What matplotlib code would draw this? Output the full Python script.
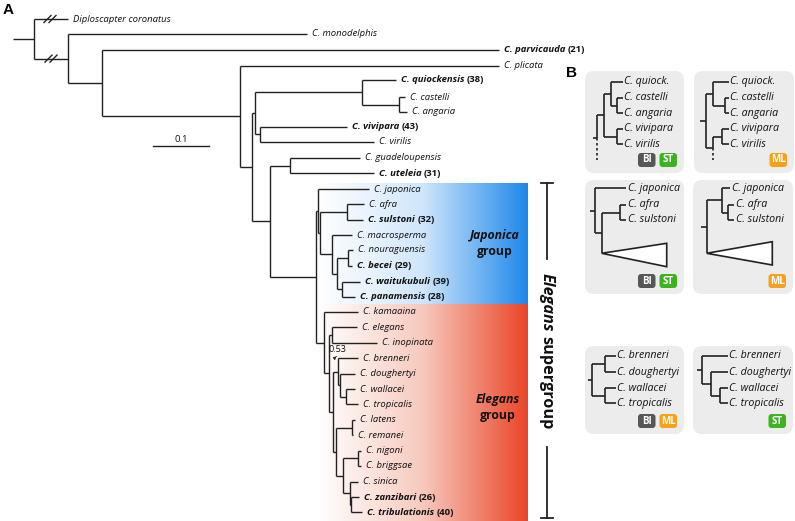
import matplotlib.pyplot as plt
import numpy as np
from matplotlib.colors import LinearSegmentedColormap
from matplotlib.patches import FancyBboxPatch, Polygon

plt.rcParams['font.family'] = ['Open Sans', 'DejaVu Sans']

# ---------------- data (positions, in pixels) ----------------
# main tree leaves: name, row y, tip x, bold suffix
main_leaves = ['Diploscapter coronatus', 'C. monodelphis', 'C. parvicauda', 'C. plicata',
               'C. quiockensis', 'C. castelli', 'C. angaria', 'C. vivipara', 'C. virilis',
               'C. guadeloupensis', 'C. uteleia', 'C. japonica', 'C. afra', 'C. sulstoni',
               'C. macrosperma', 'C. nouraguensis', 'C. becei', 'C. waitukubuli',
               'C. panamensis', 'C. kamaaina', 'C. elegans', 'C. inopinata', 'C. brenneri',
               'C. doughertyi', 'C. wallacei', 'C. tropicalis', 'C. latens', 'C. remanei',
               'C. nigoni', 'C. briggsae', 'C. sinica', 'C. zanzibari', 'C. tribulationis']
main_leaf_y = [19, 34, 50, 65.7, 80, 97, 112, 126.7, 142, 158, 173, 189.3, 204.3, 220,
               235, 250, 266, 281.7, 296.7, 311.7, 327.3, 342.7, 358.3, 374, 389, 404.3,
               420, 435, 450.7, 466, 481.7, 497.3, 512.3]
main_leaf_tip = [68, 307, 499, 499, 396, 405, 407, 347, 374, 360, 374, 369, 364, 363,
                 352, 353, 352, 360, 355, 358, 357, 377, 358, 355, 355, 358, 355, 353,
                 361, 361, 358, 359, 362]
new_species = {'C. parvicauda': '(21)', 'C. quiockensis': '(38)', 'C. vivipara': '(43)',
               'C. uteleia': '(31)', 'C. sulstoni': '(32)', 'C. becei': '(29)',
               'C. waitukubuli': '(39)', 'C. panamensis': '(28)', 'C. zanzibari': '(26)',
               'C. tribulationis': '(40)'}

# main tree internal nodes: name, x, children
main_nodes = ['root', 'n_mono', 'n_parv', 'n_plic', 'n_b', 'n_a', 'n_q', 'n_ca', 'n_vv',
              'n_c', 'n_gu', 'n_sg', 'n_j', 'n_x', 'n_as', 'n_m', 'n_n', 'n_nb', 'n_wp',
              'n_e', 'n_ei', 'n_el', 'n_p', 'n_q2', 'n_r', 'n_wt', 'n_s', 'n_lr', 'n_t',
              'n_nbr', 'n_u', 'n_v']
main_node_x = [34, 68, 102, 240, 252, 255, 362, 399, 260, 270, 289.5, 316, 317.7, 320,
               347, 331.7, 337.3, 348.3, 341.7, 324, 328.7, 331.7, 332.7, 337.5, 339.5,
               346, 336, 351.7, 342.7, 358.3, 349.5, 351]
main_node_children = [
    ['Diploscapter coronatus', 'n_mono'], ['C. monodelphis', 'n_parv'],
    ['C. parvicauda', 'n_plic'], ['C. plicata', 'n_b'], ['n_a', 'n_c'], ['n_q', 'n_vv'],
    ['C. quiockensis', 'n_ca'], ['C. castelli', 'C. angaria'], ['C. vivipara', 'C. virilis'],
    ['n_gu', 'n_sg'], ['C. guadeloupensis', 'C. uteleia'], ['n_j', 'n_e'],
    ['C. japonica', 'n_x'], ['n_as', 'n_m'], ['C. afra', 'C. sulstoni'],
    ['C. macrosperma', 'n_n'], ['n_nb', 'n_wp'], ['C. nouraguensis', 'C. becei'],
    ['C. waitukubuli', 'C. panamensis'], ['C. kamaaina', 'n_ei'], ['n_el', 'n_p'],
    ['C. elegans', 'C. inopinata'], ['n_q2', 'n_s'], ['C. brenneri', 'n_r'],
    ['C. doughertyi', 'n_wt'], ['C. wallacei', 'C. tropicalis'], ['n_lr', 'n_t'],
    ['C. latens', 'C. remanei'], ['n_nbr', 'n_u'], ['C. nigoni', 'C. briggsae'],
    ['C. sinica', 'n_v'], ['C. zanzibari', 'C. tribulationis']]
main_stem_x = 13
break_marks = [(50, 'Diploscapter coronatus'), (51, 'n_mono')]

# panel B subtrees
b1_leaves = ['C. quiock.', 'C. castelli', 'C. angaria', 'C. vivipara', 'C. virilis', 'rest']
b1_y = [81.7, 97.7, 113.3, 129, 144.3, 160]
b1_tip = [623, 623, 623, 623, 623, 597.3]
b1_nodes = ['r', 'a', 'q', 'ca', 'vv']
b1_x = [597.3, 604, 610.7, 617.3, 617.3]
b1_children = [['a', 'rest'], ['q', 'vv'], ['C. quiock.', 'ca'],
               ['C. castelli', 'C. angaria'], ['C. vivipara', 'C. virilis']]

b2_leaves = ['C. quiock.', 'C. castelli', 'C. angaria', 'C. vivipara', 'C. virilis', 'rest']
b2_y = [81.7, 97.7, 113.3, 129, 144.3, 160]
b2_tip = [729, 729, 729, 729, 729, 713.3]
b2_nodes = ['r', 'q', 'ca', 'b', 'vv']
b2_x = [705.7, 712.7, 725, 713.3, 721.7]
b2_children = [['q', 'b'], ['C. quiock.', 'ca'], ['C. castelli', 'C. angaria'],
               ['vv', 'rest'], ['C. vivipara', 'C. virilis']]

b3_leaves = ['C. japonica', 'C. afra', 'C. sulstoni', 'tri']
b3_y = [188.3, 205, 220, 253.3]
b3_tip = [626, 626, 626, 601.7]
b3_nodes = ['r', 'a', 'as']
b3_x = [595, 601.7, 620]
b3_children = [['C. japonica', 'a'], ['as', 'tri'], ['C. afra', 'C. sulstoni']]

b4_leaves = ['C. japonica', 'C. afra', 'C. sulstoni', 'tri']
b4_y = [188.3, 205, 220, 253.3]
b4_tip = [730, 734, 734, 706.7]
b4_nodes = ['r', 'j', 'as']
b4_x = [706.7, 721.7, 728.3]
b4_children = [['j', 'tri'], ['C. japonica', 'as'], ['C. afra', 'C. sulstoni']]

b5_leaves = ['C. brenneri', 'C. doughertyi', 'C. wallacei', 'C. tropicalis']
b5_y = [356, 372.3, 388.3, 403.3]
b5_tip = [615.5, 615.5, 615.5, 615.5]
b5_nodes = ['r', 'bd', 'wt']
b5_x = [591.7, 605, 605]
b5_children = [['bd', 'wt'], ['C. brenneri', 'C. doughertyi'], ['C. wallacei', 'C. tropicalis']]

b6_leaves = ['C. brenneri', 'C. doughertyi', 'C. wallacei', 'C. tropicalis']
b6_y = [356, 372.3, 388.3, 403.3]
b6_tip = [727.5, 727.5, 727.5, 727.5]
b6_nodes = ['r', 'd', 'wt']
b6_x = [701.7, 710.7, 720]
b6_children = [['C. brenneri', 'd'], ['C. doughertyi', 'wt'], ['C. wallacei', 'C. tropicalis']]

# boxes (x0, y0, x1, y1) and their method badges
b_boxes = [(585, 71, 684, 173), (694, 71, 794, 173), (585, 180, 684, 294),
           (693, 180, 793, 294), (585, 346, 684, 434), (693, 346, 793, 434)]
b_badges = [['BI', 'ST'], ['ML'], ['BI', 'ST'], ['ML'], ['BI', 'ML'], ['ST']]
badge_colors = {'BI': '#575757', 'ST': '#3db321', 'ML': '#f6a01c'}

# ---------------- figure ----------------
W, H = 795, 521
fig = plt.figure(figsize=(W / 100, H / 100), dpi=100)
ax = fig.add_axes([0, 0, 1, 1])
renderer = fig.canvas.get_renderer()
LC = '#222222'


def setup_limits():
    ax.set_xlim(0, W)
    ax.set_ylim(H, 0)
    ax.axis('off')


def label(x, y, name, size, bold=False, extra=None):
    t = ax.text(x, y, name, style='italic', fontweight='bold' if bold else 'normal',
                fontsize=size, va='center', ha='left', color='#111111')
    if extra:
        bb = t.get_window_extent(renderer)
        x1 = ax.transData.inverted().transform((bb.x1, bb.y0))[0]
        ax.text(x1 + 2.5, y, extra, fontweight='bold', fontsize=size, va='center',
                ha='left', color='#111111')


def draw_tree(leaves, ly, ltip, nodes, nx, nch, stem_x, size, gap, lw,
              bold_map=None, hide=('rest', 'tri')):
    pos = {n: (t, y) for n, y, t in zip(leaves, ly, ltip)}
    ch = dict(zip(nodes, nch))
    xs = dict(zip(nodes, nx))

    def ypos(n):
        if n in pos:
            return pos[n][1]
        ys = [ypos(c) for c in ch[n]]
        return (min(ys) + max(ys)) / 2

    for n in nodes:
        y0 = ypos(n)
        solid = [c for c in ch[n] if c != 'rest']
        sy = [ypos(c) for c in solid] + [y0]
        ax.plot([xs[n], xs[n]], [min(sy), max(sy)], color=LC, lw=lw, solid_capstyle='butt')
        if 'rest' in ch[n]:
            ax.plot([xs[n], xs[n]], [y0, ypos('rest')], color=LC, lw=lw,
                    linestyle=(0, (1.5, 1.5)))
        for c in ch[n]:
            cx = xs[c] if c in xs else pos[c][0]
            ax.plot([xs[n], cx], [ypos(c), ypos(c)], color=LC, lw=lw, solid_capstyle='butt')
    rooty = ypos(nodes[0])
    ax.plot([stem_x, nx[0]], [rooty, rooty], color=LC, lw=lw, solid_capstyle='butt')
    for n in leaves:
        if n in hide:
            continue
        extra = bold_map.get(n) if bold_map else None
        label(pos[n][0] + gap, pos[n][1], n, size, bold=extra is not None, extra=extra)
    return ypos


# gradient backgrounds for the two groups
grad = np.linspace(0, 1, 256).reshape(1, -1)
blue = LinearSegmentedColormap.from_list('b', ['#ffffff', '#cfe6fb', '#1e88ea'])
red = LinearSegmentedColormap.from_list('r', ['#ffffff', '#f7c9bd', '#ea4528'])
ax.imshow(grad, cmap=blue, extent=[318, 528, 304, 183], aspect='auto', zorder=0)
ax.imshow(grad, cmap=red, extent=[318, 528, 521, 304], aspect='auto', zorder=0)
setup_limits()

ypos = draw_tree(main_leaves, main_leaf_y, main_leaf_tip, main_nodes, main_node_x,
                 main_node_children, main_stem_x, 6.8, 5, 1.0, bold_map=new_species)

# break marks on the long outgroup branches
for cx, n in break_marks:
    yy = ypos(n)
    for dx in (-2.5, 2.5):
        ax.plot([cx + dx - 3.5, cx + dx + 3.5], [yy + 3.5, yy - 3.5], color=LC, lw=1.0)

# support value
ax.text(337, 350, '0.53', fontsize=6.5, ha='center', va='center', color='#111111')
ax.annotate('', xy=(336, 363), xytext=(339, 355),
            arrowprops=dict(arrowstyle='-|>', color=LC, lw=0.6, mutation_scale=4,
                            connectionstyle='arc3,rad=0.6'))

# scale bar
ax.plot([153, 209], [146, 146], color=LC, lw=1.0)
ax.text(181, 139, '0.1', fontsize=6.8, ha='center', va='center', color='#111111')

# group labels
ax.text(495, 236, 'Japonica', fontsize=8.8, fontweight='bold', style='italic',
        ha='center', va='center', color='#111111')
ax.text(495, 252, 'group', fontsize=8.8, fontweight='bold', ha='center', va='center',
        color='#111111')
ax.text(498, 400, 'Elegans', fontsize=8.8, fontweight='bold', style='italic',
        ha='center', va='center', color='#111111')
ax.text(498, 416, 'group', fontsize=8.8, fontweight='bold', ha='center', va='center',
        color='#111111')

# supergroup bracket
bx = 546.5
ax.plot([bx, bx], [183, 259], color=LC, lw=1.3)
ax.plot([bx - 6, bx + 6], [183, 183], color=LC, lw=1.3)
ax.plot([bx, bx], [447, 518], color=LC, lw=1.3)
ax.plot([bx - 6, bx + 6], [518, 518], color=LC, lw=1.3)
t1 = ax.text(bx, 273, 'Elegans', fontsize=11.7, fontweight='bold', style='italic',
             rotation=-90, ha='center', va='top', color='#111111')
bb = t1.get_window_extent(renderer)
yend = ax.transData.inverted().transform((bb.x0, bb.y0))[1]
ax.text(bx, yend + 4, 'supergroup', fontsize=11.7, fontweight='bold', rotation=-90,
        ha='center', va='top', color='#111111')

# panel letters
ax.text(3, 10, 'A', fontsize=11, fontweight='bold', family='Liberation Sans',
        ha='left', va='center')
ax.text(566, 73, 'B', fontsize=11, fontweight='bold', family='Liberation Sans',
        ha='left', va='center')

# panel B boxes and badges
for (x0, y0, x1, y1), badges in zip(b_boxes, b_badges):
    ax.add_patch(FancyBboxPatch((x0, y0), x1 - x0, y1 - y0,
                                boxstyle='round,pad=0,rounding_size=9',
                                fc='#ececec', ec='none', zorder=0))
    bxr = x1 - 7
    for name in reversed(badges):
        w, h = 17.5, 14
        ax.add_patch(FancyBboxPatch((bxr - w, y1 - 20), w, h,
                                    boxstyle='round,pad=0,rounding_size=3',
                                    fc=badge_colors[name], ec='none', zorder=1))
        ax.text(bxr - w / 2, y1 - 13, name, color='white', fontsize=7, fontweight='bold',
                ha='center', va='center', zorder=2)
        bxr -= w + 4

bsize, blw = 7.7, 1.2
trees = [
    (b1_leaves, b1_y, b1_tip, b1_nodes, b1_x, b1_children, 593.3),
    (b2_leaves, b2_y, b2_tip, b2_nodes, b2_x, b2_children, 700),
    (b3_leaves, b3_y, b3_tip, b3_nodes, b3_x, b3_children, 590),
    (b4_leaves, b4_y, b4_tip, b4_nodes, b4_x, b4_children, 700.7),
    (b5_leaves, b5_y, b5_tip, b5_nodes, b5_x, b5_children, 587.7),
    (b6_leaves, b6_y, b6_tip, b6_nodes, b6_x, b6_children, 697.3),
]
tri_ends = [(666.7, 243.3, 266.7), (772.3, 241.7, 265)]
for i, (lv, ly, lt, nd, nx, nc, sx) in enumerate(trees):
    yp = draw_tree(lv, ly, lt, nd, nx, nc, sx, bsize, 1.5, blw)
    if 'tri' in lv:
        ax_, top, bot = tri_ends[i - 2]
        apex = (lt[lv.index('tri')], ly[lv.index('tri')])
        ax.add_patch(Polygon([apex, (ax_, top), (ax_, bot)], closed=True, fc='white',
                             ec=LC, lw=blw, zorder=2))

setup_limits()
fig.savefig('out.png', dpi=100)
